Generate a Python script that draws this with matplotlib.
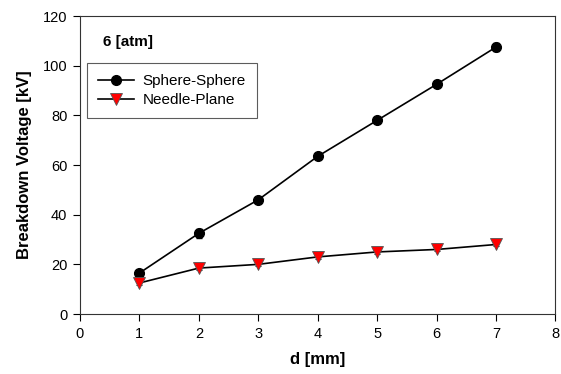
import matplotlib
matplotlib.use("Agg")
import matplotlib.pyplot as plt
from matplotlib.lines import Line2D
import numpy as np

plt.rcParams['font.family'] = ['Liberation Sans', 'DejaVu Sans']

d = [1, 2, 3, 4, 5, 6, 7]
sphere = [16.5, 32.5, 46.0, 63.5, 78.0, 92.5, 107.5]
sphere_err = [1.2, 1.8, 1.0, 1.0, 1.0, 1.2, 1.5]
needle = [12.5, 18.5, 20.0, 23.0, 25.0, 26.0, 28.0]
needle_err = [0.8, 0.8, 0.8, 0.8, 0.8, 0.8, 0.8]
xticks = [0, 1, 2, 3, 4, 5, 6, 7, 8]
yticks = [0, 20, 40, 60, 80, 100, 120]

fig = plt.figure(figsize=(5.61, 3.74), dpi=100)
ax = fig.add_axes([0.1426, 0.1604, 0.8474, 0.7966])

ax.errorbar(d, sphere, yerr=sphere_err, color='black', lw=1.2, marker='o',
            ms=7, mfc='black', mec='black', capsize=2.5, elinewidth=0.8, zorder=3)
ax.errorbar(d, needle, yerr=needle_err, color='black', lw=1.2, marker='v',
            ms=8.5, mfc='red', mec='#555555', mew=0.6, capsize=2.5, elinewidth=0.8, zorder=3)

ax.set_xlim(0, 8)
ax.set_ylim(0, 120)
ax.set_xticks(xticks)
ax.set_yticks(yticks)
ax.tick_params(direction='out', length=5, width=0.8, labelsize=10.5, pad=4)
for s in ax.spines.values():
    s.set_linewidth(0.8)
    s.set_color('#333333')

ax.set_xlabel('d [mm]', fontsize=12, fontweight='bold', labelpad=8)
ax.set_ylabel('Breakdown Voltage [kV]', fontsize=12, fontweight='bold', labelpad=8)

ax.text(0.39, 109.5, '6 [atm]', fontsize=11, fontweight='bold', va='center', ha='left')

handles = [
    Line2D([], [], color='black', lw=1.2, marker='o', ms=7, mfc='black', mec='black'),
    Line2D([], [], color='black', lw=1.2, marker='v', ms=8.5, mfc='red', mec='#555555', mew=0.6),
]
labels = ['Sphere-Sphere', 'Needle-Plane']
leg = ax.legend(handles, labels, loc='upper left', bbox_to_anchor=(0.0147, 0.843),
                fontsize=11, frameon=True, fancybox=False, edgecolor='#333333',
                handlelength=2.35, borderpad=0.75, labelspacing=0.3, handletextpad=0.55,
                borderaxespad=0)
leg.get_frame().set_linewidth(0.8)

fig.savefig('out.png', dpi=100)
